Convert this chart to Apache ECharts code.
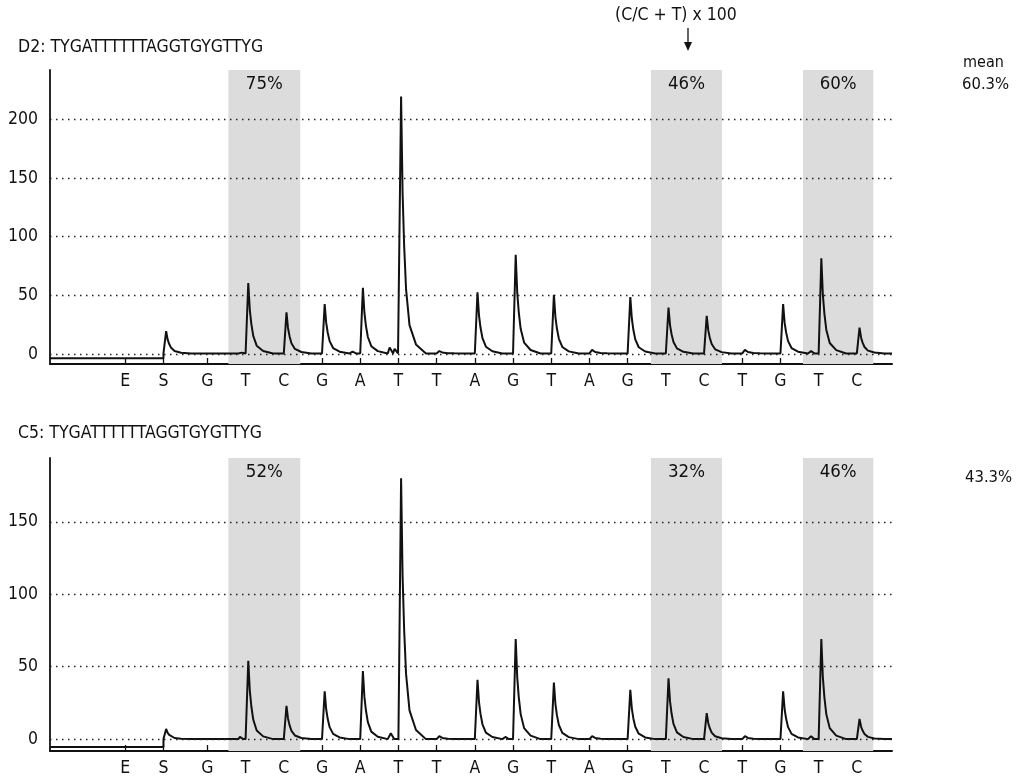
<!DOCTYPE html>
<html>
<head>
<meta charset="utf-8">
<script src="https://cdn.jsdelivr.net/npm/echarts@6/dist/echarts.min.js"></script>
<style>
  html, body { margin: 0; padding: 0; background: #fff; }
  #chart { width: 1020px; height: 777px; }
</style>
</head>
<body>
<div id="chart"></div>
<script>
// dispensation order and where each dispensation sits on the x axis
const dispensation = ['E', 'S', 'G', 'T', 'C', 'G', 'A', 'T', 'T', 'A', 'G', 'T', 'A', 'G', 'T', 'C', 'T', 'G', 'T', 'C'];
const dispPos = [-0.15, 0.85, 2, 3, 4, 5, 6, 7, 8, 9, 10, 11, 12, 13, 14, 15, 16, 17, 18, 19];

// peak heights per dispensation
const d2Peaks = [0, 19, 0, 60, 35, 42, 56, 219, 2, 52, 84, 50, 3, 48, 39, 32, 3, 42, 81, 22];
const c5Peaks = [0, 7, 0, 54, 23, 33, 47, 180, 2, 41, 69, 39, 2, 34, 42, 18, 2, 33, 69, 14];
// small bumps between dispensations [x, height]
const d2Bumps = [[2.85, 1.5], [5.8, 1.5], [6.77, 5], [6.9, 4], [17.8, 2]];
const c5Bumps = [[2.85, 1.5], [6.8, 4], [9.8, 1.5], [17.8, 2]];
// baseline before / after the substrate step
const d2Base = [-3.5, 0.5];
const c5Base = [-5.5, 0];

// CpG sites (shaded) and methylation %
const cpgBands = [[2.55, 4.43], [13.61, 15.47], [17.59, 19.43]];
const d2Pct = ['75%', '46%', '60%'];
const c5Pct = ['52%', '32%', '46%'];
const d2Mean = '60.3%';
const c5Mean = '43.3%';
const d2Ticks = [0, 50, 100, 150, 200];
const c5Ticks = [0, 50, 100, 150];

// peak profile: [offset from dispensation, fraction of height]
const peakShape = [[0, 0], [0.07, 1], [0.11, 0.62], [0.15, 0.42], [0.2, 0.25], [0.29, 0.11], [0.46, 0.035], [0.72, 0]];
const bumpShape = [[-0.04, 0], [0, 1], [0.05, 0.45], [0.09, 0]];

const X_MIN = -2.12, X_MAX = 19.92;
const FONT = '"DejaVu Sans Condensed", "Noto Sans", sans-serif';
const INK = '#111';

function trace(peaks, bumps, base) {
  const pts = [[X_MIN, base[0]], [dispPos[1], base[0]]];
  peaks.forEach((h, i) => {
    if (i < 1 || h <= 0) return;
    peakShape.forEach(([dx, f]) => pts.push([dispPos[i] + dx, base[1] + h * f]));
  });
  bumps.forEach(([x, h]) => {
    bumpShape.forEach(([dx, f]) => pts.push([x + dx, base[1] + h * f]));
  });
  pts.push([X_MAX, base[1]]);
  pts.sort((a, b) => a[0] - b[0]);
  return pts;
}

function xAxis(gi) {
  return {
    gridIndex: gi, type: 'value', min: X_MIN, max: X_MAX,
    axisLine: { onZero: false, lineStyle: { color: INK, width: 2 } },
    axisTick: { inside: true, length: 6, customValues: dispPos, lineStyle: { color: INK, width: 1.3 } },
    axisLabel: {
      customValues: dispPos, margin: 8, fontSize: 17.5, color: INK, fontFamily: FONT,
      formatter: v => dispensation[dispPos.indexOf(v)] || ''
    },
    splitLine: { show: false }
  };
}

function yAxis(gi, min, max, ticks) {
  return {
    gridIndex: gi, type: 'value', min: min, max: max,
    axisLine: { show: true, onZero: false, lineStyle: { color: INK, width: 1.8 } },
    axisTick: { show: false },
    splitLine: { show: false },
    axisLabel: { customValues: ticks, margin: 12, fontSize: 17.5, color: INK, fontFamily: FONT }
  };
}

function bandSeries(gi, pct, ticks) {
  return {
    type: 'line', xAxisIndex: gi, yAxisIndex: gi, data: [], z: 1, silent: true,
    markArea: {
      silent: true,
      itemStyle: { color: '#dcdcdc' },
      label: { show: true, position: 'insideTop', distance: 5, fontSize: 18.5, color: INK, fontFamily: FONT },
      data: cpgBands.map((b, k) => [{ xAxis: b[0], name: pct[k] }, { xAxis: b[1] }])
    },
    markLine: {
      silent: true, symbol: 'none',
      label: { show: false },
      lineStyle: { type: [1.5, 4.5], color: '#222', width: 1.4 },
      data: ticks.map(v => ({ yAxis: v }))
    }
  };
}

function traceSeries(gi, pts) {
  return {
    type: 'line', xAxisIndex: gi, yAxisIndex: gi, z: 3, silent: true,
    showSymbol: false, animation: false,
    lineStyle: { color: INK, width: 2 },
    data: pts
  };
}

function text(x, y, str, size) {
  return {
    type: 'text', x: x, y: y,
    style: { text: str, fill: INK, font: (size || 17.5) + 'px ' + FONT, textVerticalAlign: 'middle' }
  };
}

const chart = echarts.init(document.getElementById('chart'), null, { renderer: 'canvas' });
chart.setOption({
  animation: false,
  backgroundColor: '#fff',
  grid: [
    { left: 50, right: 128, top: 70, height: 294 },
    { left: 50, right: 128, top: 458, height: 294 }
  ],
  xAxis: [xAxis(0), xAxis(1)],
  yAxis: [yAxis(0, -8.5, 242, d2Ticks), yAxis(1, -8.2, 194, c5Ticks)],
  series: [
    bandSeries(0, d2Pct, d2Ticks),
    traceSeries(0, trace(d2Peaks, d2Bumps, d2Base)),
    bandSeries(1, c5Pct, c5Ticks),
    traceSeries(1, trace(c5Peaks, c5Bumps, c5Base))
  ],
  graphic: [
    text(18, 47, 'D2: TYGATTTTTTAGGTGYGTTYG'),
    text(18, 433, 'C5: TYGATTTTTTAGGTGYGTTYG'),
    text(615, 15, '(C/C + T) x 100'),
    { type: 'line', shape: { x1: 688, y1: 28, x2: 688, y2: 44 }, style: { stroke: INK, lineWidth: 1.3 } },
    { type: 'polygon', shape: { points: [[684, 42], [692, 42], [688, 51]] }, style: { fill: INK } },
    text(963, 63, 'mean', 16),
    text(962, 85, d2Mean, 16.5),
    text(965, 478, c5Mean, 16.5)
  ]
});
</script>
</body>
</html>
